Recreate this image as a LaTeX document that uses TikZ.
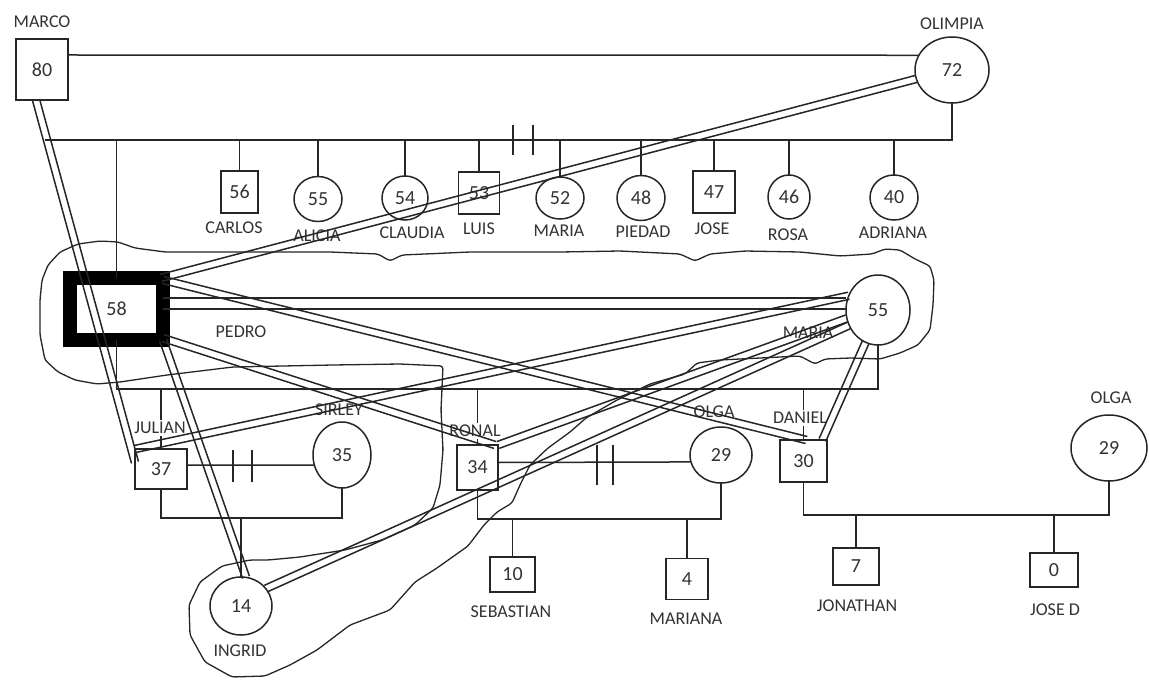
\documentclass[tikz,border=0pt]{standalone}
\usepackage{fontspec}
\setmainfont{Carlito}
\usetikzlibrary{shapes.geometric,calc}
\newcommand{\dblline}[3][1.8pt]{%
  \draw[ln] ($(#2)!#1!90:(#3)$) -- ($(#3)!#1!-90:(#2)$);
  \draw[ln] ($(#2)!#1!-90:(#3)$) -- ($(#3)!#1!90:(#2)$);
}
\begin{document}
\begin{tikzpicture}[x=0.5pt,y=-0.5pt,
  every node/.style={inner sep=0pt, outer sep=0pt},
  ln/.style={line width=0.75pt, draw=black!85},
  cloud/.style={line width=0.65pt, draw=black!85, rounded corners=1.5pt},
  sq/.style={draw=black!85, line width=0.75pt, font=\fontsize{10}{12}\selectfont, text=black!80},
  ci/.style={ellipse, draw=black!85, line width=0.75pt, font=\fontsize{10}{12}\selectfont, text=black!80},
  lab/.style={font=\fontsize{9}{11}\selectfont, text=black!80},
  labw/.style={lab, fill=white, inner sep=1pt},
]
\fill[white] (0,0) rectangle (1149,679);
\useasboundingbox (0,0) rectangle (1149,679);

% cloud
\draw[cloud] (40,300) -- (42,280) -- (48,265) -- (60,252) -- (78,244) -- (100,241) -- (118,242) -- (135,248) -- (165,252) -- (250,252) -- (330,252) -- (378,254) -- (390,261) -- (402,255) -- (470,252) -- (560,252) -- (620,251) -- (680,254) -- (695,261) -- (710,254) -- (745,251) -- (800,252) -- (840,256) -- (872,254) -- (885,249) -- (900,250) -- (915,259) -- (930,266) -- (934,280) -- (933,305) -- (930,330) -- (918,345) -- (900,353) -- (880,359) -- (850,358) -- (825,359) -- (815,364) -- (800,356) -- (760,358) -- (720,360) -- (697,363) -- (685,374) -- (650,384) -- (617,400) -- (586,418) -- (570,432) -- (548,448) -- (530,465) -- (520,485) -- (512,503) -- (497,512) -- (484,525) -- (468,546) -- (437,568) -- (415,582) -- (390,610) -- (350,625) -- (317,650) -- (290,665) -- (265,676) -- (232,677) -- (205,662) -- (190,635) -- (189,605) -- (200,582) -- (222,566) -- (250,560) -- (268,560) -- (300,557) -- (345,550) -- (382,540) -- (415,525) -- (433,508) -- (440,485) -- (443,450) -- (441,410) -- (443,366) -- (400,364) -- (333,365) -- (233,367) -- (167,375) -- (120,382) -- (97,384) -- (75,380) -- (58,372) -- (45,360) -- (40,335) -- cycle;

% persons
\node[sq, minimum width=26pt, minimum height=30.5pt] (marco) at (42,69.5) {80};
\node[ci, minimum width=37pt, minimum height=33pt] (olimpia) at (952,70) {72};
\node[sq, minimum width=18.5pt, minimum height=21pt] (carlos) at (239.5,192) {56};
\node[ci, minimum width=24pt, minimum height=22.5pt] (alicia) at (318,199) {55};
\node[ci, minimum width=23pt, minimum height=22pt] (claudia) at (405,198) {54};
\node[sq, minimum width=20.5pt, minimum height=21pt] (luis) at (479,193) {53};
\node[ci, minimum width=24pt, minimum height=21pt] (maria52) at (560,198) {52};
\node[ci, minimum width=24pt, minimum height=22.5pt] (piedad) at (641,198) {48};
\node[sq, minimum width=21pt, minimum height=21pt] (jose) at (714,192) {47};
\node[ci, minimum width=21pt, minimum height=22pt] (rosa) at (789,197) {46};
\node[ci, minimum width=24pt, minimum height=22.5pt] (adriana) at (894,197.5) {40};
\node[draw=black, line width=7pt, minimum width=46.5pt, minimum height=31pt, font=\fontsize{10}{12}\selectfont, text=black!80] (pedro) at (116.5,309) {58};
\node[ci, minimum width=32pt, minimum height=35pt] (maria55) at (878,310) {55};
\node[sq, minimum width=26pt, minimum height=20pt] (julian) at (161,469) {37};
\node[ci, minimum width=29pt, minimum height=33pt] (sirley) at (342,455) {35};
\node[ci, minimum width=31pt, minimum height=29pt] (ingrid) at (241,606) {14};
\node[sq, minimum width=20.5pt, minimum height=22.5pt] (ronal) at (477.5,467.5) {34};
\node[ci, minimum width=31pt, minimum height=28pt] (olga1) at (721,455) {29};
\node[sq, minimum width=23.5pt, minimum height=21pt] (daniel) at (803.5,461) {30};
\node[ci, minimum width=38pt, minimum height=33pt] (olga2) at (1109,448) {29};
\node[sq, minimum width=22.5pt, minimum height=17.5pt] (sebastian) at (512.5,574.5) {10};
\node[sq, minimum width=21pt, minimum height=20.5pt] (mariana) at (687,579) {4};
\node[sq, minimum width=23pt, minimum height=18.5pt] (jonathan) at (856,566.5) {7};
\node[sq, minimum width=24pt, minimum height=17pt] (josed) at (1054,570) {0};

% helper coordinates
\coordinate (m55) at (0,55);
\coordinate (sibL) at (45,140);
\coordinate (sibR) at (952,140);
\coordinate (pm) at (0,389);
\coordinate (c1) at (0,518);
\coordinate (c2) at (0,519);
\coordinate (c3) at (0,515);

% marriage Marco - Olimpia and siblings
\draw[ln] (marco.east |- m55) -- (olimpia.156);
\draw[ln] (sibL) -- (sibR) -- (olimpia.south);
\foreach \n in {pedro,carlos,alicia,claudia,luis,maria52,piedad,jose,rosa,adriana}
  \draw[ln] (\n.north) -- (\n.north |- sibL);
\draw[ln] (513,125) -- (513,155) (533,125) -- (533,155);

% Pedro - Maria and children
\draw[ln] (pedro.south) -- (pedro.south |- pm) -- (maria55.south |- pm) -- (maria55.south);
\foreach \n in {julian,ronal,daniel}
  \draw[ln] (\n.north) -- (\n.north |- pm);

% Julian - Sirley
\draw[ln] ([yshift=2pt]julian.east) -- (sirley.200);
\draw[ln] (233,450) -- (233,482) (252,450) -- (252,482);
\draw[ln] (julian.south) -- (julian.south |- c1) -- (sirley.south |- c1) -- (sirley.south);
\draw[ln] (ingrid.north) -- (ingrid.north |- c1);

% Ronal - Olga
\draw[ln] ([yshift=2.5pt]ronal.east) -- (olga1.193);
\draw[ln] (597,445) -- (597,485) (613,445) -- (613,485);
\draw[ln] (ronal.south) -- (ronal.south |- c2) -- (olga1.south |- c2) -- (olga1.south);
\draw[ln] (sebastian.north) -- (sebastian.north |- c2);
\draw[ln] (mariana.north) -- (mariana.north |- c2);

% Daniel - Olga
\draw[ln] (daniel.south) -- (daniel.south |- c3) -- (olga2.south |- c3) -- (olga2.south);
\draw[ln] (jonathan.north) -- (jonathan.north |- c3);
\draw[ln] (josed.north) -- (josed.north |- c3);

% labels
\node[lab] (lmarco) at (42,22) {MARCO};
\node[lab] (lolimpia) at (952,24) {OLIMPIA};
\node[lab] (lcarlos) at (234,228) {CARLOS};
\node[lab] (lalicia) at (317,236) {ALICIA};
\node[lab] (lclaudia) at (412,233) {CLAUDIA};
\node[lab] (lluis) at (479,229) {LUIS};
\node[lab] (lmaria52) at (559,231) {MARIA};
\node[lab] (lpiedad) at (643,232) {PIEDAD};
\node[lab] (ljose) at (712,229) {JOSE};
\node[lab] (lrosa) at (788,235) {ROSA};
\node[lab] (ladriana) at (893,233) {ADRIANA};
\node[lab] (lpedro) at (241,332) {PEDRO};
\node[lab] (lmaria55) at (808,333) {MARIA};
\node[labw] (ljulian) at (160,428) {JULIAN};
\node[lab] (lsirley) at (339,410) {SIRLEY};
\node[labw] (lronal) at (475,431) {RONAL};
\node[lab] (lolga1) at (714,412) {OLGA};
\node[labw] (ldaniel) at (800,418) {DANIEL};
\node[lab] (lolga2) at (1111,398) {OLGA};
\node[lab] (lingrid) at (240,651) {INGRID};
\node[lab] (lsebastian) at (511,612) {SEBASTIAN};
\node[lab] (lmariana) at (686,619) {MARIANA};
\node[lab] (ljonathan) at (857,606) {JONATHAN};
\node[lab] (ljosed) at (1055,610) {JOSE D};

% close relationships (double lines)
\dblline{marco.259}{julian.166}
\dblline{olimpia.194}{pedro.35}
\coordinate (pm1) at ([yshift=5.5pt]pedro.east);
\draw[ln] (pm1) -- (pm1 -| maria55.west);
\draw[ln] (pedro.east) -- (pedro.east -| maria55.west);
\dblline{pedro.32}{daniel.82}
\dblline{pedro.-32}{ronal.52}
\dblline{pedro.south east}{ingrid.80}
\dblline{julian.north west}{maria55.154}
\dblline{ronal.north east}{maria55.195}
\dblline{ingrid.35}{maria55.208}
\dblline{maria55.249}{daniel.48}
\end{tikzpicture}
\end{document}
